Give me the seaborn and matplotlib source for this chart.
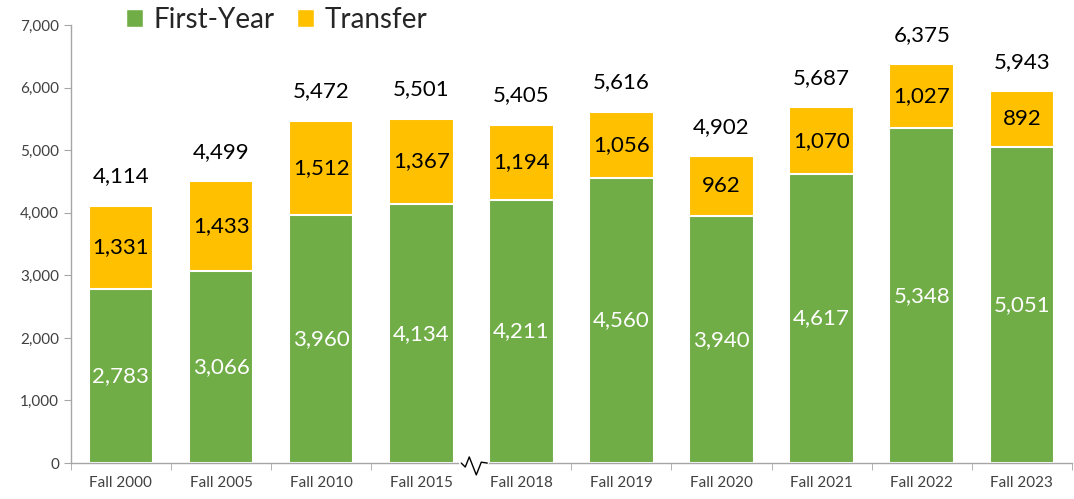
import matplotlib
matplotlib.use('Agg')
import matplotlib.pyplot as plt
import matplotlib.transforms as mtransforms
from matplotlib.patches import Patch
import seaborn as sns
import pandas as pd
import numpy as np

terms = ["Fall 2000", "Fall 2005", "Fall 2010", "Fall 2015", "Fall 2018",
         "Fall 2019", "Fall 2020", "Fall 2021", "Fall 2022", "Fall 2023"]
first_year = [2783, 3066, 3960, 4134, 4211, 4560, 3940, 4617, 5348, 5051]
transfer = [1331, 1433, 1512, 1367, 1194, 1056, 962, 1070, 1027, 892]
totals = [4114, 4499, 5472, 5501, 5405, 5616, 4902, 5687, 6375, 5943]

GREEN = "#70AD47"
GOLD = "#FFC000"

df = pd.DataFrame({"term": terms, "first": first_year, "transfer": transfer})
df["stack"] = df["first"] + df["transfer"]

sns.set_style("white")
plt.rcParams['font.family'] = ['Lato', 'DejaVu Sans']

fig = plt.figure(figsize=(10.74, 4.99), dpi=100)
ax = fig.add_axes([0.066, 0.072, 0.932, 0.878])

# stacked bars: full stack in gold, first-year drawn over it
sns.barplot(data=df, x="term", y="stack", color=GOLD, width=0.645,
            edgecolor="white", linewidth=1.5, saturation=1, ax=ax)
sns.barplot(data=df, x="term", y="first", color=GREEN, width=0.645,
            edgecolor="white", linewidth=1.5, saturation=1, ax=ax)

x = np.arange(len(terms))
for i in x:
    ax.text(i, first_year[i] / 2, f"{first_year[i]:,}", ha="center", va="center",
            color="white", fontsize=16)
    ax.text(i, first_year[i] + transfer[i] / 2, f"{transfer[i]:,}", ha="center",
            va="center", color="black", fontsize=16)
    ax.text(i, totals[i] + 470, f"{totals[i]:,}", ha="center", va="center",
            color="black", fontsize=16)

ax.set_ylim(0, 7000)
ax.set_xlim(-0.5, len(terms) - 0.5)
ax.set_yticks(range(0, 7001, 1000))
ax.set_yticklabels([f"{v:,}" for v in range(0, 7001, 1000)])
ax.set_xlabel("")
ax.set_ylabel("")

for side in ["top", "right"]:
    ax.spines[side].set_visible(False)
for side in ["left", "bottom"]:
    ax.spines[side].set_color("#A6A6A6")
    ax.spines[side].set_linewidth(1.0)

ax.tick_params(axis="y", which="major", length=5, color="#A6A6A6",
               labelsize=11, labelcolor="#404040", left=True)
ax.tick_params(axis="x", which="major", length=0, labelsize=11,
               labelcolor="#404040", pad=9)
ax.set_xticks([b for b in np.arange(-0.5, len(terms)) if b != 3.5], minor=True)
ax.tick_params(axis="x", which="minor", length=5, color="#A6A6A6", bottom=True)

# axis break marker between Fall 2015 and Fall 2018
trans = mtransforms.blended_transform_factory(ax.transData, ax.transAxes)
ax.plot([3.5 - 0.1, 3.5 + 0.16], [0, 0], color="white", lw=3,
        transform=trans, clip_on=False, zorder=5)
ax.plot(3.5 + np.array([-0.1, -0.06, -0.02, 0.05, 0.1, 0.16]),
        [0.0, -0.009, 0.014, -0.027, 0.002, 0.0], color="black", lw=1.0,
        transform=trans, clip_on=False, zorder=6)

handles = [Patch(facecolor=GREEN, label="First-Year"),
           Patch(facecolor=GOLD, label="Transfer")]
fig.legend(handles=handles, loc="center left", bbox_to_anchor=(0.094, 0.96),
           ncol=2, frameon=False, fontsize=20, handlelength=0.6,
           handleheight=0.6, handletextpad=0.4, columnspacing=0.8)

fig.savefig("out.png", dpi=100)
plt.close(fig)
